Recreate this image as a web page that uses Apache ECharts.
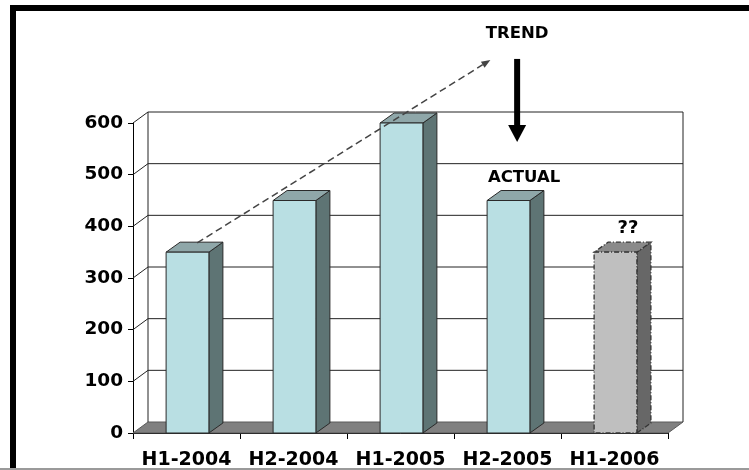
<!DOCTYPE html>
<html>
<head>
<meta charset="utf-8">
<script src="https://cdn.jsdelivr.net/npm/echarts@6/dist/echarts.min.js"></script>
<style>
  html, body { margin: 0; padding: 0; background: #fff; }
  #chart { width: 749px; height: 470px; }
</style>
</head>
<body>
<div id="chart"></div>
<script>
// Half-year results, with the last period still an estimate
const categories = ['H1-2004', 'H2-2004', 'H1-2005', 'H2-2005', 'H1-2006'];
const values = [350, 450, 600, 450, 350];
const isEstimate = [false, false, false, false, true];
const yTicks = [0, 100, 200, 300, 400, 500, 600];

// Annotations, in axis units (category index, value)
const trendLine = [[0.1, 368], [2.84, 722]];
const dropArrow = [[3.09, 724], [3.09, 563]];
const notes = [
  { text: 'TREND', at: [3.09, 772] },
  { text: 'ACTUAL', at: [3.155, 495] },
  { text: '??', at: [4.125, 397] }
];

const FONT = 'DejaVu Sans';
const WALL = [15, 11];    // depth of the back wall, px
const BAR = [14, 10];     // depth of each bar, px

const chart = echarts.init(document.getElementById('chart'));

// category axis snaps to whole indices, so fractional positions are
// placed from the first band centre plus the band width
function at(api, p) {
  const c = api.coord([0, p[1]]);
  return [c[0] + p[0] * api.size([1, 0])[0], c[1]];
}

function wallItem(params, api) {
  const cs = params.coordSys;
  const left = cs.x, right = cs.x + cs.width;
  const v = api.value(1);
  const y = api.coord([0, v])[1];
  const children = [];
  if (v === 0) {
    children.push({
      type: 'polygon',
      shape: { points: [[left, y], [right, y], [right + WALL[0], y - WALL[1]], [left + WALL[0], y - WALL[1]]] },
      style: { fill: '#808080', stroke: '#5a5a5a', lineWidth: 1 }
    });
    const yTop = api.coord([0, yTicks[yTicks.length - 1]])[1];
    children.push({
      type: 'line',
      shape: { x1: left + WALL[0], y1: yTop - WALL[1], x2: left + WALL[0], y2: y - WALL[1] },
      style: { stroke: '#222', lineWidth: 1 }
    });
    children.push({
      type: 'line',
      shape: { x1: right + WALL[0], y1: yTop - WALL[1], x2: right + WALL[0], y2: y - WALL[1] },
      style: { stroke: '#222', lineWidth: 1 }
    });
  } else {
    children.push({
      type: 'polyline',
      shape: { points: [[left, y], [left + WALL[0], y - WALL[1]], [right + WALL[0], y - WALL[1]]] },
      style: { stroke: '#222', lineWidth: 1, fill: null }
    });
  }
  return { type: 'group', children: children };
}

function barItem(params, api) {
  const i = api.value(0), v = api.value(1);
  const est = isEstimate[params.dataIndex];
  const base = api.coord([i, 0]);
  const top = api.coord([i, v]);
  const w = api.size([1, 0])[0] * 0.4;
  const x0 = base[0] - w / 2 + 1, x1 = x0 + w;
  const yb = base[1], yt = top[1];
  const line = est ? { stroke: '#333', lineWidth: 1.3, lineDash: [5, 2, 1, 2] } : { stroke: '#2a2a2a', lineWidth: 1 };
  const colors = est
    ? { front: '#bfbfbf', side: '#676767', top: '#8a8a8a' }
    : { front: '#b9dfe3', side: '#5e7474', top: '#8fa7a9' };
  return {
    type: 'group',
    children: [
      {
        type: 'polygon',
        shape: { points: [[x1, yb], [x1 + BAR[0], yb - BAR[1]], [x1 + BAR[0], yt - BAR[1]], [x1, yt]] },
        style: Object.assign({ fill: colors.side }, line)
      },
      {
        type: 'polygon',
        shape: { points: [[x0, yt], [x1, yt], [x1 + BAR[0], yt - BAR[1]], [x0 + BAR[0], yt - BAR[1]]] },
        style: Object.assign({ fill: colors.top }, line)
      },
      {
        type: 'rect',
        shape: { x: x0, y: yt, width: w, height: yb - yt },
        style: Object.assign({ fill: colors.front }, line)
      }
    ]
  };
}

function trendItem(params, api) {
  const p0 = at(api, trendLine[0]);
  const p1 = at(api, trendLine[1]);
  const dx = p1[0] - p0[0], dy = p1[1] - p0[1];
  const len = Math.sqrt(dx * dx + dy * dy);
  const ux = dx / len, uy = dy / len;
  const head = 9, half = 3.5;
  const bx = p1[0] - ux * head, by = p1[1] - uy * head;
  return {
    type: 'group',
    children: [
      {
        type: 'line',
        shape: { x1: p0[0], y1: p0[1], x2: bx, y2: by },
        style: { stroke: '#444', lineWidth: 1.5, lineDash: [7, 4] }
      },
      {
        type: 'polygon',
        shape: { points: [p1, [bx - uy * half, by + ux * half], [bx + uy * half, by - ux * half]] },
        style: { fill: '#444' }
      }
    ]
  };
}

function dropItem(params, api) {
  const p0 = at(api, dropArrow[0]);
  const p1 = at(api, dropArrow[1]);
  const head = 17, half = 9;
  return {
    type: 'group',
    children: [
      {
        type: 'rect',
        shape: { x: p0[0] - 3, y: p0[1], width: 6, height: p1[1] - head - p0[1] + 1 },
        style: { fill: '#000' }
      },
      {
        type: 'polygon',
        shape: { points: [[p1[0] - half, p1[1] - head], [p1[0] + half, p1[1] - head], [p1[0], p1[1]]] },
        style: { fill: '#000' }
      }
    ]
  };
}

function noteItem(params, api) {
  const n = notes[params.dataIndex];
  const p = at(api, n.at);
  return {
    type: 'text',
    x: p[0], y: p[1],
    style: {
      text: n.text, fill: '#000',
      font: 'bold ' + (n.text === '??' ? 18 : 16.5) + 'px "' + FONT + '"',
      align: 'center', verticalAlign: 'middle'
    }
  };
}

chart.setOption({
  animation: false,
  backgroundColor: '#fff',
  grid: { left: 133, right: 81, top: 123, bottom: 37, containLabel: false },
  xAxis: {
    type: 'category',
    data: categories,
    boundaryGap: true,
    axisLine: { show: true, lineStyle: { color: '#000', width: 1 } },
    axisTick: { show: true, length: 6, interval: 0, lineStyle: { color: '#000' } },
    axisLabel: { color: '#000', fontFamily: FONT, fontWeight: 'bold', fontSize: 19, margin: 18, interval: 0 },
    splitLine: { show: false }
  },
  yAxis: {
    type: 'value',
    min: 0, max: 600, interval: 100,
    axisLine: { show: true, lineStyle: { color: '#000', width: 1 } },
    axisTick: { show: true, length: 5, lineStyle: { color: '#000' } },
    axisLabel: { color: '#000', fontFamily: FONT, fontWeight: 'bold', fontSize: 18.5, margin: 10 },
    splitLine: { show: false }
  },
  graphic: [
    { type: 'rect', z: 100, shape: { x: 13, y: 8, width: 800, height: 500 }, style: { fill: null, stroke: '#000', lineWidth: 6 } },
    { type: 'line', z: 100, shape: { x1: 0, y1: 469, x2: 749, y2: 469 }, style: { stroke: '#9a9a9a', lineWidth: 2 } }
  ],
  series: [
    { type: 'custom', z: 1, clip: false, renderItem: wallItem, data: yTicks.map(v => [0, v]), silent: true },
    { type: 'custom', z: 3, clip: false, renderItem: barItem, data: values.map((v, i) => [i, v]) },
    { type: 'custom', z: 4, clip: false, renderItem: trendItem, data: [[0, 0]], silent: true },
    { type: 'custom', z: 4, clip: false, renderItem: dropItem, data: [[0, 0]], silent: true },
    { type: 'custom', z: 5, clip: false, renderItem: noteItem, data: notes.map(n => n.at), silent: true }
  ]
});
</script>
</body>
</html>
